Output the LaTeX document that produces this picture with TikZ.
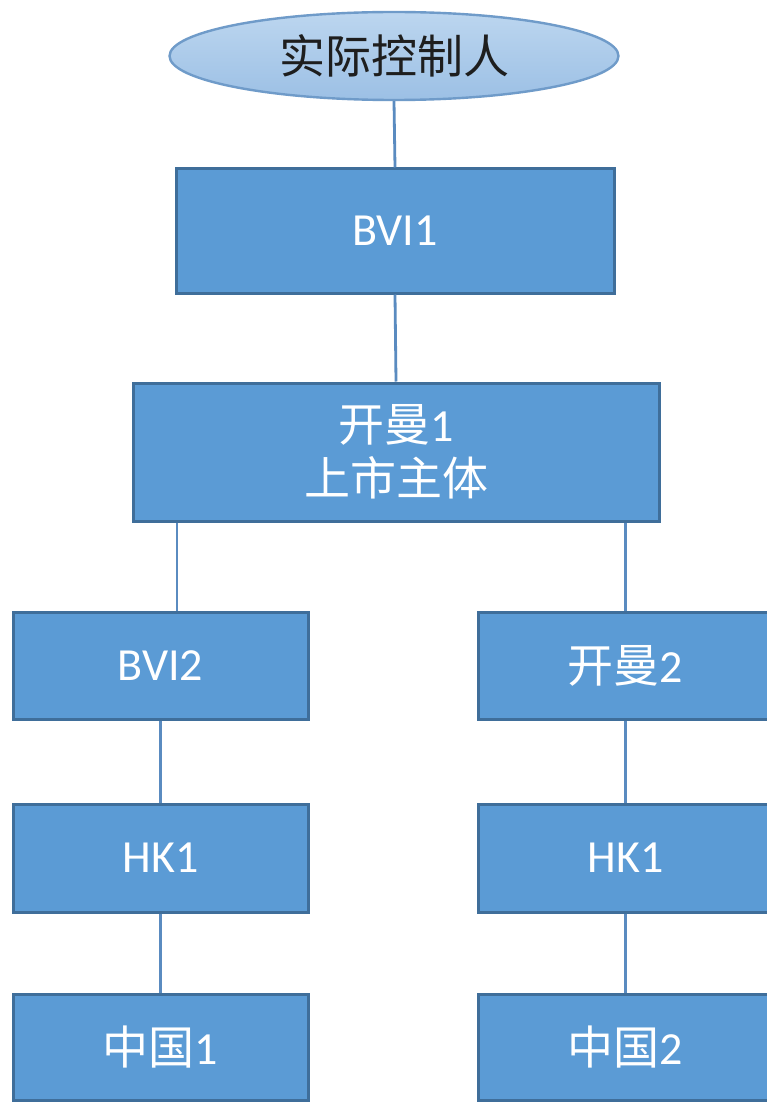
\documentclass[tikz,border=0pt]{standalone}
\usepackage{fontspec}
\setmainfont{Carlito}
\newfontfamily\cjk{Noto Sans CJK SC}
\usetikzlibrary{shapes.geometric}
\definecolor{boxfill}{HTML}{5B9BD5}
\definecolor{boxline}{HTML}{3F6E9A}
\definecolor{conline}{HTML}{5A8BC0}
\definecolor{elltop}{HTML}{BCD6EF}
\definecolor{ellbot}{HTML}{9CC0E5}
\definecolor{ellline}{HTML}{6F9BC9}
\definecolor{elltext}{HTML}{1E1E1E}
\begin{document}
\begin{tikzpicture}[x=1pt,y=-1pt,
  entity/.style={rectangle,draw=boxline,line width=3pt,fill=boxfill,
    text=white,font=\fontsize{46}{54}\selectfont,inner sep=0pt,
    minimum width=295pt,minimum height=107pt,align=center},
  owner/.style={ellipse,draw=ellline,line width=2.4pt,top color=elltop,bottom color=ellbot,
    text=elltext,font=\fontsize{46}{52}\selectfont\cjk,inner sep=0pt,
    minimum width=449pt,minimum height=88pt},
  link/.style={draw=conline,line width=2.8pt}]
\fill[white] (0,0) rectangle (767,1102);
\useasboundingbox (0,0) rectangle (767,1102);
\clip (0,0) rectangle (767,1102);
\node[owner] (ell) at (394,56) {实际控制人};
\node[entity,minimum width=438pt,minimum height=124pt] (bvi1) at (395,231) {BVI1};
\node[entity,minimum width=526pt,minimum height=138pt] (km1) at (396,452) {{\cjk 开曼}1\\[0pt]{\cjk 上市主体}};
\node[entity] (bvi2) at (160.5,665.5) {BVI2};
\node[entity] (km2) at (625.5,665.5) {{\cjk 开曼}2};
\node[entity,minimum height=108pt] (hkl) at (160.5,858) {HK1};
\node[entity,minimum height=108pt] (hkr) at (625.5,858) {HK1};
\node[entity,minimum height=106pt] (cn1) at (160.5,1047.5) {{\cjk 中国}1};
\node[entity,minimum height=106pt] (cn2) at (625.5,1047.5) {{\cjk 中国}2};
\coordinate (lx) at (177,0);
\coordinate (rx) at (625.5,0);
\path[link] (ell.south) -- (bvi1.north);
\path[link] (bvi1.south) -- (km1.north);
\path[link] (lx |- km1.south) -- (lx |- bvi2.north);
\path[link] (rx |- km1.south) -- (km2.north);
\path[link] (bvi2.south) -- (hkl.north);
\path[link] (km2.south) -- (hkr.north);
\path[link] (hkl.south) -- (cn1.north);
\path[link] (hkr.south) -- (cn2.north);
\end{tikzpicture}
\end{document}
